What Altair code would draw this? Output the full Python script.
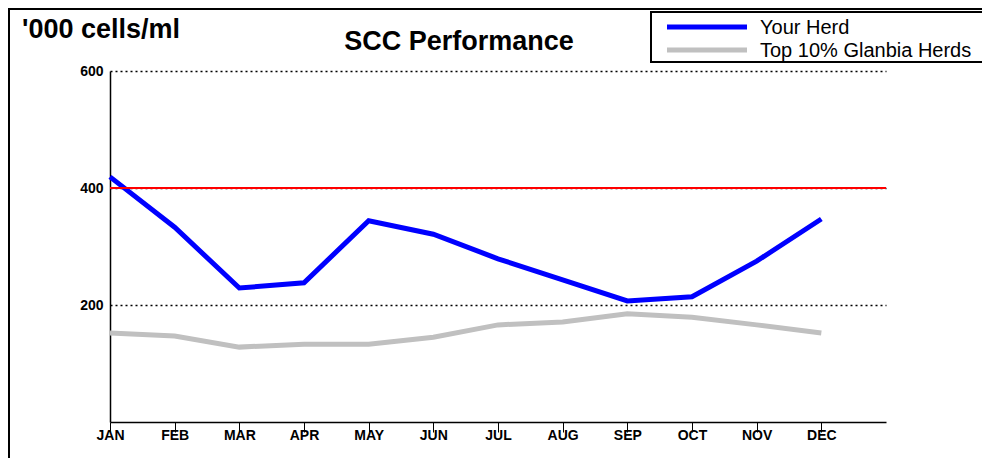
import altair as alt
import pandas as pd

months = ["JAN", "FEB", "MAR", "APR", "MAY", "JUN", "JUL", "AUG", "SEP", "OCT", "NOV", "DEC"]
series_names = ["Your Herd", "Top 10% Glanbia Herds"]
series_colors = ["#0000FF", "#C0C0C0"]
your_herd = [419, 333, 229, 238, 344, 321, 279, 243, 207, 214, 275, 347]
top10 = [152, 147, 128, 133, 133, 145, 166, 171, 185, 179, 166, 152]
target = [400]
y_ticks = [200, 400, 600]
chart_title = "SCC Performance"
unit_label = "'000 cells/ml"

rows = []
for i, m in enumerate(months):
    rows.append({"idx": i, "month": m, "value": top10[i], "series": series_names[1]})
for i, m in enumerate(months):
    rows.append({"idx": i, "month": m, "value": your_herd[i], "series": series_names[0]})
df = pd.DataFrame(rows)

W, H = 776, 351
FONT = "Liberation Sans"

label_expr = "[" + ",".join(f"'{m}'" for m in months) + "][datum.value]"

x_enc = alt.X("idx:Q", scale=alt.Scale(domain=[0, 12], nice=False, zero=False),
              axis=alt.Axis(values=list(range(12)), labelExpr=label_expr, title=None,
                            grid=False, domainColor="black", domainWidth=1.5,
                            tickColor="black", tickSize=10, tickWidth=1,
                            labelPadding=-4, labelFont=FONT, labelFontSize=14,
                            labelFontWeight="bold",
                            labelColor="black", labelFlush=False))
y_enc = alt.Y("value:Q", scale=alt.Scale(domain=[0, 600], nice=False),
              axis=alt.Axis(values=y_ticks, title=None, grid=True, gridColor="black",
                            gridDash=[2, 3], gridWidth=1.5, domainColor="black",
                            domainWidth=1.5, ticks=False, labelPadding=7,
                            labelFont=FONT, labelFontSize=14, labelFontWeight="bold",
                            labelColor="black"))

grey_line = alt.Chart(df[df.series == series_names[1]]).mark_line(strokeWidth=5, color=series_colors[1]).encode(
    x=x_enc, y=y_enc)
blue_line = alt.Chart(df[df.series == series_names[0]]).mark_line(strokeWidth=5, color=series_colors[0]).encode(
    x=alt.X("idx:Q"), y=alt.Y("value:Q"))

red = alt.Chart(pd.DataFrame({"t": target})).mark_rule(color="#FF0000", strokeWidth=2).encode(
    y=alt.Y("t:Q"))

frame = alt.Chart(pd.DataFrame({"a": [0]})).mark_rect(fill=None, stroke="black", strokeWidth=2, clip=False).encode(
    x=alt.value(-101), x2=alt.value(1000), y=alt.value(-62), y2=alt.value(500))

title_t = alt.Chart(pd.DataFrame({"t": [chart_title]})).mark_text(
    font=FONT, fontSize=27, fontWeight="bold", align="center", baseline="alphabetic", color="black").encode(
    text="t:N", x=alt.value(349), y=alt.value(-21))

unit_t = alt.Chart(pd.DataFrame({"t": [unit_label]})).mark_text(
    font=FONT, fontSize=27, fontWeight="bold", align="left", baseline="alphabetic", color="black").encode(
    text="t:N", x=alt.value(-88), y=alt.value(-33))

leg_box = alt.Chart(pd.DataFrame({"a": [0]})).mark_rect(fill="white", stroke="black", strokeWidth=2).encode(
    x=alt.value(541), x2=alt.value(1000), y=alt.value(-59), y2=alt.value(-9))

leg_layers = [leg_box]
leg_ys = [-44, -21]
for name, col, ly in zip(series_names, series_colors, leg_ys):
    d = pd.DataFrame({"name": [name]})
    leg_layers.append(alt.Chart(d).mark_rule(color=col, strokeWidth=5).encode(
        x=alt.value(557), x2=alt.value(637), y=alt.value(ly)))
    leg_layers.append(alt.Chart(d).mark_text(font=FONT, fontSize=20, align="left", baseline="middle",
                                             color="black").encode(
        text="name:N", x=alt.value(650), y=alt.value(ly + 1)))

chart = alt.layer(frame, grey_line, blue_line, red, title_t, unit_t, *leg_layers).properties(
    width=W, height=H,
    autosize=alt.AutoSizeParams(type="none"),
    padding={"left": 102, "top": 63, "right": 96, "bottom": 36},
).configure(background="white").configure_view(stroke=None)

chart.save("out.html", embed_options={"renderer": "svg", "actions": False})
